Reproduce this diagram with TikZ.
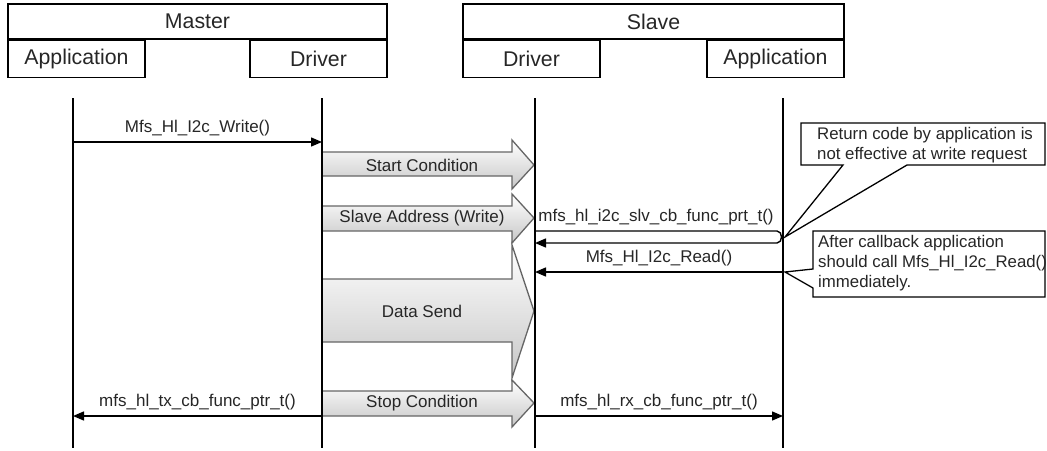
\documentclass[tikz,border=0pt]{standalone}
\usepackage{fontspec}
\setmainfont{Liberation Sans}
\usetikzlibrary{positioning,arrows.meta}
\tikzset{
  hdr/.style={draw, line width=1.3pt, font=\fontsize{21.3}{24}\selectfont, text=black!85, inner sep=0pt},
  life/.style={line width=1.4pt},
  msg/.style={line width=1.4pt, -{Triangle[length=11pt,width=9pt]}},
  lbl/.style={font=\fontsize{17}{20}\selectfont, text=black!85},
  fat/.style={draw=black!60, line width=1.3pt, top color=white, bottom color=black!22},
  note/.style={draw, line width=1.3pt, fill=white},
  notetxt/.style={font=\fontsize{16.8}{20}\selectfont, text=black!85, align=left, anchor=north west, inner sep=0pt},
}

\begin{document}
\begin{tikzpicture}[x=1pt,y=-1pt]
\useasboundingbox (0,0) rectangle (1047,450);

\node[hdr, minimum width=379pt, minimum height=35pt] (master) at (197.5,21.5) {Master};
\node[hdr, minimum width=137pt, minimum height=37pt, anchor=north west] (mappbox) at (master.south west) {Application};
\node[hdr, minimum width=137pt, minimum height=37pt, anchor=north east] (mdrvbox) at (master.south east) {Driver};
\node[hdr, minimum width=381pt, minimum height=35pt] (slave) at (653.5,21.5) {Slave};
\node[hdr, minimum width=137pt, minimum height=37pt, anchor=north west] (sdrvbox) at (slave.south west) {Driver};
\node[hdr, minimum width=137pt, minimum height=37pt, anchor=north east] (sappbox) at (slave.south east) {Application};

% bus phases
\draw[fat] (322,152) -- (512,152) -- (512,140) -- (534,165) -- (512,189) -- (512,176) -- (322,176) -- cycle;
\draw[fat] (322,206) -- (512,206) -- (512,194) -- (534,218) -- (512,243) -- (512,231) -- (322,231) -- cycle;
\draw[fat] (322,279) -- (512,279) -- (512,245) -- (534,311) -- (512,378) -- (512,342) -- (322,342) -- cycle;
\draw[fat] (322,391) -- (512,391) -- (512,380) -- (534,403) -- (512,427) -- (512,416) -- (322,416) -- cycle;
\node[lbl] (start) at (422,165) {Start Condition};
\node[lbl] (addr) at (422,218) {Slave Address (Write)};
\node[lbl] (data) at (422,311) {Data Send};
\node[lbl] (stop) at (422,403) {Stop Condition};

\foreach \n/\x in {mapp/73, mdrv/322, sdrv/535, sapp/783} {
  \coordinate (\n) at (\x,98);
  \coordinate (\n end) at (\x,448);
  \draw[life] (\n) -- (\n end);
}

\draw[msg] (mapp |- 0,142) -- (mdrv |- 0,142) node[lbl, midway, above=1.5pt] (write) {Mfs\_Hl\_I2c\_Write()};
\coordinate (cbturn) at (777,231);
\coordinate (cbback) at (777,243);
\draw[msg] (sdrv |- 0,231) -- (cbturn) node[lbl, midway, above=1.5pt] (slvcb) {mfs\_hl\_i2c\_slv\_cb\_func\_prt\_t()}
  .. controls (783,231) and (783,243) .. (cbback) -- (sdrv |- 0,243);
\draw[msg] (sapp |- 0,272) -- (sdrv |- 0,272) node[lbl, midway, above=1.5pt] (read) {Mfs\_Hl\_I2c\_Read()};
\draw[msg] (mdrv |- 0,416) -- (mapp |- 0,416) node[lbl, midway, above=1.5pt] (txcb) {mfs\_hl\_tx\_cb\_func\_ptr\_t()};
\draw[msg] (sdrv |- 0,416) -- (sapp |- 0,416) node[lbl, midway, above=1.5pt] (rxcb) {mfs\_hl\_rx\_cb\_func\_ptr\_t()};

% notes
\draw[note] (801,123) -- (1045,123) -- (1045,165) -- (907,165) -- (785,237) -- (843,165) -- (801,165) -- cycle;
\node[notetxt] (note1) at (817,127) {Return code by application is\\not effective at write request};
\draw[note] (813,231) -- (1045,231) -- (1045,297) -- (813,297) -- (813,288) -- (785,272) -- (813,269) -- cycle;
\node[notetxt] (note2) at (818,235) {After callback application\\should call Mfs\_Hl\_I2c\_Read()\\immediately.};
\end{tikzpicture}
\end{document}
